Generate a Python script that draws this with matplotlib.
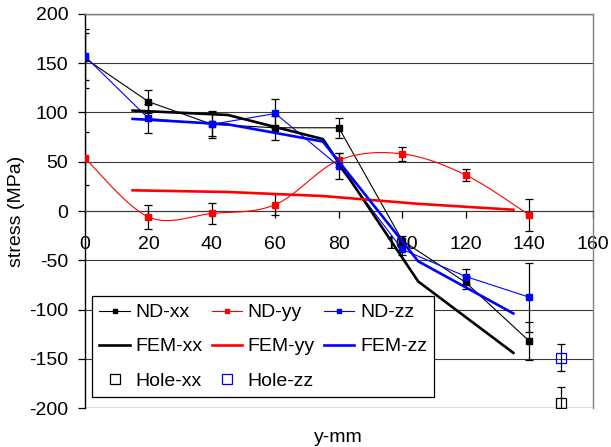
import numpy as np
import matplotlib
matplotlib.use("Agg")
import matplotlib.pyplot as plt
from matplotlib.lines import Line2D

plt.rcParams["font.family"] = ["Liberation Sans", "DejaVu Sans"]
plt.rcParams["font.size"] = 14
plt.rcParams["axes.unicode_minus"] = False

# Neutron diffraction measurements
pos_nd = [0, 20, 40, 60, 80, 100, 120, 140]
nd_xx = [155, 111, 88, 84.5, 84.5, -30, -72.5, -132]
nd_xx_err = [30, 12, 12, 12, 10, 5, 7, 19]
nd_yy = [53.5, -6, -2.5, 6.5, 51.5, 58, 36.5, -4]
nd_yy_err = [27, 12, 10.5, 10.5, 7, 7, 6, 16]
nd_zz = [157, 94, 88, 99, 45.5, -39, -66.5, -87.5]
nd_zz_err = [24, 14.5, 14, 15, 13.5, 6, 8, 35]

# Finite element predictions
pos_fem = [15, 45, 75, 105, 135]
fem_xx = [102, 97.5, 73, -71.5, -144]
fem_yy = [21, 19.3, 15.2, 7.3, 1.3]
fem_zz = [93.5, 88, 70.5, -51, -104]

# Hole drilling measurements
pos_hole = [150]
hole_xx = [-195]
hole_xx_err = [16]
hole_zz = [-149]
hole_zz_err = [13.5]

xticks = [0, 20, 40, 60, 80, 100, 120, 140, 160]
yticks = [-200, -150, -100, -50, 0, 50, 100, 150, 200]

RED = "#ff0000"
BLUE = "#0000ff"


def smooth(x, y, n=40):
    """Bezier smoothing through every point (Catmull-Rom control points)."""
    p = np.column_stack([x, y]).astype(float)
    ext = np.vstack([p[0], p, p[-1]])
    t = np.linspace(0, 1, n)[:, None]
    out = []
    for i in range(len(p) - 1):
        p0, p1 = ext[i + 1], ext[i + 2]
        c1 = p0 + (ext[i + 2] - ext[i]) / 6.0
        c2 = p1 - (ext[i + 3] - ext[i + 1]) / 6.0
        seg = ((1 - t) ** 3) * p0 + 3 * ((1 - t) ** 2) * t * c1 \
            + 3 * (1 - t) * t ** 2 * c2 + t ** 3 * p1
        out.append(seg if i == 0 else seg[1:])
    out = np.vstack(out)
    return out[:, 0], out[:, 1]


fig = plt.figure(figsize=(6.11, 4.47), dpi=100)
ax = fig.add_axes([0.1391, 0.0872, 0.8309, 0.8815])
ax.set_xlim(0, 160)
ax.set_ylim(-200, 200)

# horizontal grid
for yv in yticks:
    ax.axhline(yv, color="#3a3a3a", lw=0.8, zorder=0.5)
ax.axhline(-200, color="#808080", lw=1.0, zorder=0.6)
ax.axhline(200, color="#808080", lw=1.0, zorder=0.6)

ebkw = dict(fmt="none", ecolor="black", elinewidth=0.9, capsize=2.8,
            capthick=0.9, zorder=3)
ax.errorbar(pos_nd, nd_xx, yerr=nd_xx_err, **ebkw)
ax.errorbar(pos_nd, nd_yy, yerr=nd_yy_err, **ebkw)
ax.errorbar(pos_nd, nd_zz, yerr=nd_zz_err, **ebkw)
ax.errorbar(pos_hole, hole_xx, yerr=hole_xx_err, **ebkw)
ax.errorbar(pos_hole, hole_zz, yerr=hole_zz_err, **ebkw)

mk = dict(marker="s", markersize=4.3, lw=0.8, zorder=4)
ax.plot(pos_nd, nd_xx, color="black", **mk)
sx, sy = smooth(pos_nd, nd_yy)
ax.plot(sx, sy, color=RED, lw=0.8, zorder=4)
ax.plot(pos_nd, nd_yy, color=RED, ls="none", marker="s", markersize=4.3, zorder=4)
ax.plot(pos_nd, nd_zz, color=BLUE, **mk)

ax.plot(pos_fem, fem_xx, color="black", lw=1.9, zorder=5)
ax.plot(pos_fem, fem_yy, color=RED, lw=1.9, zorder=5)
ax.plot(pos_fem, fem_zz, color=BLUE, lw=1.9, zorder=5)

ax.plot(pos_hole, hole_xx, ls="none", marker="s", markersize=7,
        markerfacecolor="none", markeredgecolor="black", mew=0.9, zorder=6)
ax.plot(pos_hole, hole_zz, ls="none", marker="s", markersize=7,
        markerfacecolor="none", markeredgecolor=BLUE, mew=0.9, zorder=6)

# axes: y axis at x=0, x axis crossing at y=0
ax.spines["bottom"].set_position(("data", 0))
ax.spines["bottom"].set_color("#3a3a3a")
ax.spines["bottom"].set_linewidth(0.8)
ax.spines["left"].set_color("black")
ax.spines["left"].set_linewidth(1.0)
for s in ("top", "right"):
    ax.spines[s].set_color("#808080")
    ax.spines[s].set_linewidth(1.0)

ax.set_xticks(xticks)
ax.set_yticks(yticks)
ax.tick_params(axis="x", direction="out", length=5, width=0.9, pad=13,
               labelsize=14, color="black")
ax.tick_params(axis="y", direction="out", length=5, width=0.9, pad=7,
               labelsize=14, color="black")

ax.set_xlabel("y-mm", fontsize=14, va="center")
ax.xaxis.set_label_coords(0.5, -0.0736)
ax.set_ylabel("stress (MPa)", fontsize=14, va="center")
ax.yaxis.set_label_coords(-0.134, 0.5)

handles = [
    Line2D([], [], color="black", lw=0.8, marker="s", markersize=3.5),
    Line2D([], [], color="black", lw=1.9),
    Line2D([], [], ls="none", marker="s", markersize=6.5, markerfacecolor="none",
           markeredgecolor="black", mew=0.9),
    Line2D([], [], color=RED, lw=0.8, marker="s", markersize=3.5),
    Line2D([], [], color=RED, lw=1.9),
    Line2D([], [], ls="none", marker="s", markersize=6.5, markerfacecolor="none",
           markeredgecolor=BLUE, mew=0.9),
    Line2D([], [], color=BLUE, lw=0.8, marker="s", markersize=3.5),
    Line2D([], [], color=BLUE, lw=1.9),
]
labels = ["ND-xx", "FEM-xx", "Hole-xx", "ND-yy", "FEM-yy", "Hole-zz",
          "ND-zz", "FEM-zz"]
leg = ax.legend(handles, labels, ncol=3, loc="lower left",
                bbox_to_anchor=(0.014, 0.028), borderaxespad=0,
                fontsize=14, handlelength=1.55, handletextpad=0.28,
                columnspacing=0.5, labelspacing=0.85, borderpad=0.38,
                frameon=True, fancybox=False, framealpha=1)
leg.get_frame().set_edgecolor("black")
leg.get_frame().set_linewidth(0.9)
leg.set_zorder(10)

fig.savefig("out.png", dpi=100)
